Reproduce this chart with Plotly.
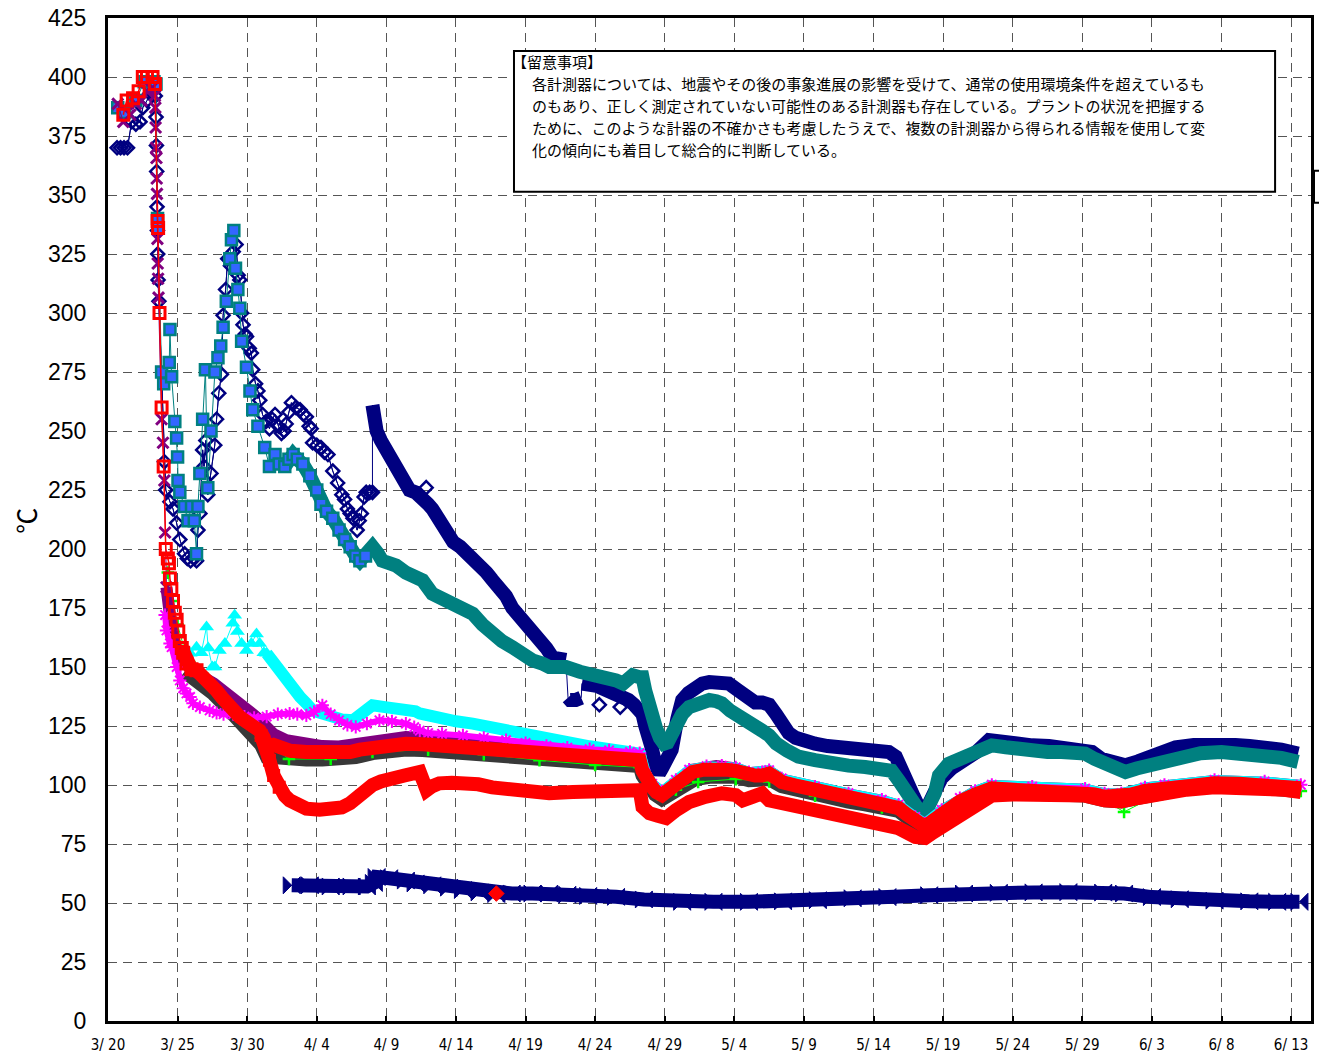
import pandas as pd
import plotly.graph_objects as go

BASE = pd.Timestamp("2011-03-20")

# ---------------- data (x = days after 3/20, y = deg C) ----------------
navy_early_days = [0.65,0.9,1.15,1.4,1.7,2.0,2.3,2.5,2.8,3.0,3.25,3.4,3.45,3.48,3.5,3.52,3.55,3.57,3.6,3.66,
                   4.05,4.15,4.45,4.67,4.93,5.16,5.5,5.7,5.93,6.2,6.36,6.46,6.6,6.8,6.9,7.03,7.17,7.4,7.67,7.8,
                   7.96,8.15,8.27,8.45,8.6,8.8,9.0,9.2,9.35,9.47,9.6,9.7,9.85,9.95,10.15,10.3,10.4,10.6,10.77,10.9,
                   11.1,11.35,11.6,11.8,12.0,12.25,12.46,12.65,12.8,13.0,13.18,13.5,13.8,14.05,14.25,14.45,14.6,14.7,15.0,15.3,
                   15.55,15.8,16.15,16.5,16.8,17.0,17.2,17.4,17.6,17.9,18.05,18.2,18.4,18.55,18.8,19.0]
navy_early_vals = [370,370,370,370,381,380,381,387,390,393,397,392,383,371,360,345,335,325,314,305,
                   237,225,220,217,211,204,198,196,195,196,195,208,215,242,235,246,223,232,244,255,
                   266,274,299,310,323,320,326,329,316,314,300,295,291,290,285,283,276,270,267,263,
                   257,254,251,255,257,252,249,250,253,258,262,260,259,257,256,252,251,245,244,243,
                   241,240,233,228,223,221,217,215,213,208,212,215,222,224,224,224]

navy_late_days = [19.0,19.1,19.3,19.6,20.0,20.4,20.7,21.2,21.66,22.1,22.6,23.0,23.3,23.8,
                  24.3,24.8,25.3,25.7,26.2,26.7,27.2,27.6,28.1,28.6,29.05,29.5,30.0,30.5,31.0,
                  31.5,31.95,32.4,32.9,33.05,33.2,33.6,34.0,34.05,34.6,35.1,35.5,36.0,36.5,37.0,
                  37.4,37.8,38.2,38.4,38.6,38.9,39.1,39.35,39.6,39.8,40.1,40.5,40.9,41.25,41.7,
                  42.2,42.7,43.2,43.9,44.6,45.3,45.9,46.5,47.0,47.5,48.0,48.4,48.9,49.4,50.1,
                  50.8,51.7,52.7,53.4,54.2,55.0,55.6,56.1,56.6,57.0,57.5,57.9,58.25,58.7,59.3,
                  59.9,60.6,61.6,62.4,63.3,64.2,65.2,66.4,67.6,68.7,69.6,70.7,71.4,72.1,73.1,
                  74.0,75.0,75.9,76.7,78.0,79.5,81.0,82.0,83.1,84.3,85.5]
navy_late_vals = [261,254,250,246,242,237,233,229,225,224,222,219,217,212,
                  206,203,201,199,196,193,190,187,184,180,175,172,170,166,163,
                  158,154,153,153,137,136,136,137,143,143,142,141,140,139,137,
                  136,134,131,130,125,120,115,108,105,107,110,115,128,136,139,
                  141.5,143,143.6,143.6,143,140,137,135,135,134,130,126,122,120,118,
                  117.5,116.5,116,115.5,115.5,115,115,114,112,107.6,100.7,95,90.7,88.6,96,
                  103,107,110,114,119,118,117,116.8,116.5,116,115,114,111,109.5,108.4,
                  110,112.6,114.5,116,117,117.5,117,116.5,116,115,113.3]

navy_spike_days = [22.86, 35.3, 36.8]
navy_spike_vals = [226, 134, 133]

teal_days = [0.7,1.2,2.0,2.6,3.3,3.45,3.56,3.6,3.85,4.0,4.4,4.45,4.57,4.8,4.93,5.0,5.03,5.16,5.5,5.75,
             6.0,6.2,6.36,6.46,6.6,6.8,7.0,7.17,7.4,7.68,7.9,8.1,8.27,8.5,8.75,8.87,9.04,9.16,9.33,9.47,
             9.6,9.95,10.2,10.4,10.77,11.26,11.6,12.0,12.3,12.7,13.0,13.3,13.6,14.0,14.5,15.0,15.3,15.7,16.15,16.6,
             17.0,17.4,17.8,18.1,18.5,19.0,19.4,19.7,20.2,20.7,21.4,22.1,22.6,23.3,23.8,24.3,25.2,26.2,26.9,27.6,
             28.3,29.05,29.8,30.5,31.2,31.7,32.4,32.9,33.9,34.8,35.5,36.5,37.0,37.7,38.2,38.4,38.6,38.9,39.1,39.35,
             39.65,39.95,40.2,40.5,40.8,41.25,41.75,42.5,43.2,43.7,44.1,44.7,45.3,46.1,47.0,47.5,48.0,48.8,49.6,50.8,
             52.0,53.2,54.4,55.4,56.3,56.8,57.2,57.5,57.9,58.25,58.7,59.1,59.4,59.7,60.4,61.0,61.6,62.5,63.5,64.5,
             65.5,66.4,67.5,68.5,69.3,70.2,70.9,71.6,72.3,73.1,73.9,74.75,75.9,77.1,78.5,80.0,81.5,83.1,84.3,85.5]
teal_vals = [387,385,390,398,398,397,340,336,275,270,279,293,273,254,247,239,229,224,218,212,
             218,212,198,218,232,255,276,226,250,275,281,286,294,305,323,331,335,319,310,302,
             288,277,267,259,252,243,235,240,236,235,238,240,238,236,231,225,219,216,213,208,
             204,201,197,195,197,201,198,195,194,193,190,188,186.7,181,179.5,178,175,172.6,168,164,
             161,158.4,155,152.8,151.5,150,150,150,148,147,146,144.3,143,146.5,145.7,145.7,140,131.6,128,124.6,
             120,117.5,118,122,126,130,133,135,136,135.5,134.6,131.5,128.8,126,123,121,117.6,114.5,112,110.5,
             109,108.2,107.6,107,106,102,98,95,92,89.3,88,92,96.5,104,109,110.5,112,114.5,116.8,116,
             115,114,114,114,113.5,113.3,111,109,107,105.5,107,108.4,110.5,112.6,113.5,114,113.5,112.6,111.5,109.8]

red_days = [1.1,1.34,1.8,2.2,2.5,2.8,3.2,3.37,3.56,3.6,3.7,3.85,4.0,4.15,4.3,4.38,4.45,4.55,4.67,4.8,
            4.93,5.05,5.16,5.3,5.4,5.64,6.0,6.36,6.7,7.08,7.4,7.8,8.2,8.6,9.0,9.47,9.9,10.4,10.9,11.2,
            11.4,11.9,12.5,13.1,14.25,15.4,16.6,17.4,18.1,19.0,20.2,21.4,22.6,23.8,25.0,26.2,27.4,28.6,29.8,31.0,
            32.2,33.4,34.6,35.8,37.0,38.2,38.4,38.6,39.1,39.4,39.8,40.3,40.8,41.4,42.0,42.8,43.7,44.4,45.1,45.6,
            46.05,46.5,47.0,47.5,48.0,48.4,49.6,50.8,52.0,53.2,54.4,55.6,56.3,56.8,57.4,58.0,58.7,59.3,59.9,60.4,
            61.2,62.3,63.5,65.0,66.4,68.3,70.2,70.9,71.6,72.8,73.5,74.5,75.9,77.5,79.5,81.3,83.1,84.5,85.7]
red_vals = [384,390,391,394,400,400,400,397,339,336,300,260,235,200,196,194,187.5,183,178,173,
            170,165,161,158,156,151.5,149,148.6,146,144.3,142,140,137,134,131,128.8,127,125,123,120,
            116,117,115.5,114.5,114,113.6,113.4,114,115,116,117,117.5,117.3,116.8,116.3,115.8,115.1,114.4,113.7,113,
            112.3,111.6,111.4,111.2,110.8,110.5,106,103.4,99,97,95.7,98,100.7,103.5,105.5,106.5,107,106.5,106,105,
            104,104,104,104.8,103,101.3,99.5,97.8,96.5,95,93.7,92.3,91,90.2,87.5,85,82.3,85,88,90.7,
            93,96,98.6,98,97.8,97.5,97,96,95,95,96,97.5,98.6,99.7,100.7,100.5,100,99.3,98.6]

red2_days = [11.0,11.4,11.6,11.9,12.3,12.7,13.05,13.6,14.25,15.2,16.15,16.8,17.4,18.1,18.6,19.0,19.6,20.2,21.3,22.4,
             22.7,22.9,23.3,23.8,24.7,25.7,26.6,27.6,28.8,30.0,31.7,33.4,35.0,36.6,38.2,38.4,38.9,39.5,40.1,40.8,
             41.75,42.9,44.1,45.1,45.6,46.3,47.0,47.5,48.6,49.7,50.8,52.0,53.2,54.4,55.6,56.8,58.0,58.7,59.3,59.9,
             60.4,61.5,62.5,63.5,65.0,66.4,68.3,70.2,71.6,72.8,74.0,75.9,77.5,79.5,81.3,83.1,84.5,85.7]
red2_vals = [121,116,110.5,104,99,95.5,93.5,91.5,90,89.5,89.3,90.5,92.3,96.5,98.5,100,101.5,102.8,104,105.5,
             101.3,97.8,99.5,100.7,101,101.3,100.3,99,98,97,96.5,97,97.2,97.5,97.8,90.7,88,87,86,89.3,
             92.8,95,96.5,95.7,93.5,95,96.5,93.5,92,90.7,89.3,88,86.5,85,83.7,81.7,78,77.5,80,82.3,
             85,89,93,95.5,96,96,96,95.5,93.5,93,94.5,97,98,99,99,98.5,98,97]

gray_days = [5.5,6.5,7.5,8.5,9.5,10.5,11.0,11.4,12.0,13.0,14.25,15.4,16.6,17.8,19.0,20.2,21.4,22.6,23.8,25.0,
             26.2,27.4,28.6,29.8,31.0,32.2,33.4,34.6,35.8,37.0,38.2,38.4,38.8,39.3,39.8,40.3,40.8,41.5,42.2,43.2,
             44.1,45.1,46.05,47.0,47.5,48.4,49.6,50.8,52.0,53.2,54.4,55.6,56.8,58.0,58.7,59.9,60.4,61.5,62.5,63.5,
             65.0,66.4,68.3,70.2,71.6,72.8,74.0,75.9,77.5,79.5,81.3,83.1,85.7]
gray_vals = [148,144,139,133,126,121,117,112,111.5,111,110.8,110.8,111,111.8,113.5,114.5,115,114.8,114.3,113.8,
             113.3,112.6,112,111.2,110.5,109.8,109.1,108.9,108.7,108.3,108,104,100,96,94,95.5,98,100.5,102.5,103.5,
             104,103.5,102,102,102.5,99.5,97.5,96,94.5,93,91.8,90.5,89,83.5,81,86,88.5,92,94.5,96.5,
             96.5,96.3,96,95.5,93.5,93,94.5,97,98.5,99.5,99.3,98.8,97.3]

purple_early_days = [0.7,1.1,1.6,2.0,2.4,2.8,3.1,3.37,3.4,3.42,3.45,3.48,3.5,3.52,3.55,3.57,3.6,3.63,3.85,3.95,4.05,4.1,4.2]
purple_early_vals = [388.6,381,384,388.6,390,394,395,392,387,378.6,370,365.7,357,350.5,331.4,321,314.5,306.5,255,245,229,207,183.8]

purple_days = [4.2,4.4,4.6,4.9,5.3,5.8,6.4,7.0,7.6,8.2,8.8,9.47,10.4,10.9,11.4,11.9,12.8,13.5,14.25,15.4,
               16.6,17.8,19.0,20.2,21.4,22.6,23.8,25.0,26.2,27.4,28.6,29.8,31.0,32.2,33.4,34.6,35.8,37.0,38.2,38.6,
               39.1,39.8,40.8,42.0,43.7,45.1,46.05,47.0,47.5,48.4,50.8,53.2,55.6,56.8,58.0,58.7,59.9,61.2,62.3,63.5,
               66.4,70.2,71.6,72.8,74.5,75.9,79.5,83.1,85.7]
purple_vals = [183.8,172,165,158,153,150,147,145,143,140.5,138,134.5,130,127.5,124.5,121.5,119,118,117,116.5,
               116.3,117.5,119,120,120.3,120,119.5,119,118.5,117.8,117,116.2,115.5,114.8,114.2,113.8,113.4,113,112.7,104.5,
               100,96.7,101.7,106.5,108,107,105,105,105.8,102.3,98.8,96,93.3,91.2,86,83.3,89,94,97,99.6,
               98.8,98,96,96,98.5,99.6,101.7,101,99.6]

magenta_days = [4.1,4.2,4.45,4.57,4.93,5.16,5.4,5.64,5.9,6.1,6.6,7.3,7.8,8.3,9.0,9.8,10.5,11.4,12.2,13.05,
                13.6,14.25,14.8,15.4,16.0,16.6,17.2,17.8,18.6,19.5,20.4,21.4,22.0,22.4,23.0,24.0,25.5,27.0,28.6,30.0,
                31.5,33.0,34.6,36.0,37.5,38.2,38.6,39.1,39.8,40.8,41.75,43.0,44.1,45.1,46.05,47.0,47.5,48.4,50.8,53.2,
                55.6,56.8,58.0,58.7,59.9,61.2,62.3,63.5,66.4,70.2,71.6,72.8,74.5,75.9,79.5,83.1,85.7]
magenta_vals = [172,165.5,160,158.4,150,144.3,141,138.8,137.3,134.6,133,131.6,130.5,130,130,129,128.5,129,130,130.3,
                130,129.5,131,133.8,130,127.4,125.5,124.6,126,127.4,127,126,124.5,123,122,121.7,121,120,119,117.8,
                116.6,115.8,115.2,114.7,114,113.5,105,100.5,97.3,102.2,106.5,108,108.2,107.5,105.5,105.5,106.3,102.8,99.3,96.5,
                93.8,91.7,86.5,83.8,89.5,94.5,97.5,100.1,99.3,98.5,96.5,96.5,99,100.1,102.2,101.5,100.1]

cyan_days = [5.9,6.36,6.7,7.08,7.2,7.5,7.68,8.0,8.4,8.97,9.1,9.3,9.6,9.95,10.3,10.67,10.9,11.2,11.4,11.9,
             12.4,12.8,13.3,13.8,14.25,14.7,15.4,16.15,16.8,17.6,18.2,18.55,19.0,19.9,20.9,22.1,22.4,23.3,23.8,25.0,
             26.2,27.4,28.6,29.8,31.0,32.2,33.4,34.6,35.8,37.0,38.2,38.6,39.1,39.8,40.8,41.75,43.0,44.1,45.1,46.05,
             47.0,47.5,48.4,50.8,53.2,55.6,56.8,58.0,58.7,59.9,61.2,62.3,63.5,66.4,70.2,71.6,72.8,74.5,75.9,79.5,
             83.1,85.7]
cyan_vals = [155.8,158.4,156,167,158,150,150,157,160,168.5,171.9,165,160,157,160,164,160,156,155.8,152,
             147,143.5,140,137.3,134.6,131.6,130.3,128.8,127.8,127.4,130,131.6,133.8,133,132.5,131.2,130.3,128.8,128,127,
             126,124.5,123,121.6,120.3,118.8,117.5,116.4,115.4,114.3,113.3,104.5,100,96.7,101.7,106,107.5,107.7,107,105,
             105,105.8,102.3,98.8,96,93.3,91.2,86,83.3,89,94,97,99.6,98.8,98,96,96,98.5,99.6,101.7,
             101,99.6]

green_days = [4.3,4.6,5.0,5.6,6.2,6.8,7.6,8.5,9.5,11.0,13.0,16.0,19.0,23.0,27.0,31.0,35.0,38.2,39.5,40.8,
              42.4,45.1,47.5,50.8,55.6,58.7,61.2,63.5,68.3,71.6,73.0,75.9,79.5,83.1,85.7]
green_vals = [190,178,168,155,150,147,143,136,128,120,111,111,114,115,113,110.5,108.5,107.5,96,98,
              101.3,102.5,101.5,95.5,90.5,82,92,96,96,93.5,88.6,97.3,99.3,99,97.5]

bottom_days = [13.2,14.5,16.0,17.5,18.6,19.1,19.3,20.2,21.4,22.1,23.3,24.5,25.5,26.7,27.9,29.0,30.5,31.7,33.0,34.5,
               36.5,38.5,41.25,43.5,46.05,48.5,51.0,53.5,56.0,59.0,61.5,64.0,66.5,69.0,71.5,73.0,75.0,77.0,79.5,82.0,
               84.0,85.6]
bottom_vals = [57.5,57.5,57,57,57,58.5,61,60.5,59.5,58.3,57.5,56.5,55.5,54.5,53.8,54,54,54,53.5,53,
               52.6,51.5,50.5,50.5,50.5,50.7,51.2,52,52.5,53.3,54,54.3,54.5,54.6,54.4,54,52.5,51.6,51,50.7,
               50.5,50.5]

reddot_days = [27.9]
reddot_vals = [54]

note_title = "【留意事項】"
note_lines = [
    "各計測器については、地震やその後の事象進展の影響を受けて、通常の使用環境条件を超えているも",
    "のもあり、正しく測定されていない可能性のある計測器も存在している。プラントの状況を把握する",
    "ために、このような計器の不確かさも考慮したうえで、複数の計測器から得られる情報を使用して変",
    "化の傾向にも着目して総合的に判断している。",
]
y_title = "℃"

# ---------------- helpers ----------------
def dates(days):
    return [BASE + pd.Timedelta(days=d) for d in days]

def sub(days, vals, lo=-1e9, hi=1e9):
    pairs = [(d, v) for d, v in zip(days, vals) if lo <= d <= hi]
    return [p[0] for p in pairs], [p[1] for p in pairs]

for a, b in [(navy_early_days, navy_early_vals), (navy_late_days, navy_late_vals), (teal_days, teal_vals),
             (red_days, red_vals), (red2_days, red2_vals), (gray_days, gray_vals), (purple_days, purple_vals),
             (purple_early_days, purple_early_vals), (magenta_days, magenta_vals), (cyan_days, cyan_vals),
             (green_days, green_vals), (bottom_days, bottom_vals)]:
    assert len(a) == len(b), (len(a), len(b))

fig = go.Figure()

def band(days, vals, color, width):
    fig.add_trace(go.Scatter(x=dates(days), y=vals, mode="lines",
                             line=dict(color=color, width=width), hoverinfo="skip"))

def marks(days, vals, color, symbol, size, lw=1, mlw=2, fill=None, mode="lines+markers"):
    fig.add_trace(go.Scatter(
        x=dates(days), y=vals, mode=mode,
        line=dict(color=color, width=lw),
        marker=dict(symbol=symbol, size=size, color=fill if fill else color,
                    line=dict(color=color, width=mlw))))

NAVY = "#000080"; TEAL = "#008080"; BLUE = "#3366FF"; RED = "#FF0000"
PURPLE = "#800080"; MAGENTA = "#FF00FF"; CYAN = "#00FFFF"; GRAY = "#383838"; GREEN = "#00FF00"

# bottom navy series
band(bottom_days, bottom_vals, NAVY, 14)
marks(bottom_days, bottom_vals, NAVY, "bowtie", 17, lw=0, mlw=1, mode="markers")

# navy diamonds: thin connecting line through everything, thick band pieces for the dense part
band(navy_early_days + navy_late_days, navy_early_vals + navy_late_vals, NAVY, 1)
marks(navy_early_days, navy_early_vals, NAVY, "diamond-open", 10, lw=1, mlw=2.5)
for lo, hi in [(19.0, 32.95), (33.0, 34.02), (34.04, 99)]:
    d, v = sub(navy_late_days, navy_late_vals, lo=lo, hi=hi)
    band(d, v, NAVY, 14)
marks(navy_spike_days, navy_spike_vals, NAVY, "diamond-open", 10, lw=0, mlw=2.5, mode="markers")

# teal squares
d, v = sub(teal_days, teal_vals, lo=12.5)
band(d, v, TEAL, 14)
d, v = sub(teal_days, teal_vals, hi=18.5)
marks(d, v, TEAL, "square", 11, lw=1, mlw=2.5, fill=BLUE)

# gray
band(gray_days, gray_vals, GRAY, 14)

# green plus
marks(green_days, green_vals, GREEN, "cross-thin-open", 9, lw=1, mlw=2.5)

# purple
band(purple_days, purple_vals, PURPLE, 12)
marks(purple_early_days, purple_early_vals, PURPLE, "x-thin-open", 11, lw=1, mlw=3)

# cyan
d, v = sub(cyan_days, cyan_vals, hi=11.5)
marks(d, v, CYAN, "triangle-up", 13, lw=1, mlw=0)
d, v = sub(cyan_days, cyan_vals, lo=11.4)
band(d, v, CYAN, 12)

# magenta
marks(magenta_days, magenta_vals, MAGENTA, "asterisk-open", 11, lw=6, mlw=2)

# red lower
band(red2_days, red2_vals, RED, 14)
d, v = sub(red2_days, red2_vals, hi=12.4)
marks(d, v, RED, "square-open", 10, lw=0, mlw=3, mode="markers")

# red upper
d, v = sub(red_days, red_vals, lo=5.3)
band(d, v, RED, 14)
d, v = sub(red_days, red_vals, hi=6.5)
marks(d, v, RED, "square-open", 11, lw=1.5, mlw=3)

# red diamond
marks(reddot_days, reddot_vals, RED, "diamond", 12, lw=0, mlw=1, mode="markers")

# ---------------- layout ----------------
W, H = 1319, 1060
L, R, T, B = 108, 5, 17, 39
pw, ph = W - L - R, H - T - B

def px(xp):
    return (xp - L) / pw

def py(yp):
    return (H - B - yp) / ph

grid = dict(showgrid=True, gridcolor="#555555", gridwidth=1, griddash="9px,6px")

NOTE_FONT = dict(family="Noto Sans CJK JP", size=15, color="black")
annotations = [
    dict(text=y_title, xref="paper", yref="paper", x=px(25), y=py(520), textangle=-90,
         xanchor="center", yanchor="middle",
         showarrow=False, font=dict(family="Noto Sans CJK JP", size=26, color="black")),
    dict(text=note_title, xref="paper", yref="paper", x=px(511), y=py(61), xanchor="left", yanchor="middle",
         showarrow=False, align="left", font=NOTE_FONT),
]
for i, line in enumerate(note_lines):
    annotations.append(dict(text=line, xref="paper", yref="paper", x=px(531), y=py(83 + 22 * i),
                            xanchor="left", yanchor="middle", showarrow=False, align="left",
                            font=NOTE_FONT))

fig.update_layout(
    width=W, height=H, margin=dict(l=L, r=R, t=T, b=B),
    paper_bgcolor="white", plot_bgcolor="white", showlegend=False,
    xaxis=dict(type="date", range=[BASE, BASE + pd.Timedelta(days=86.43)],
               tick0="2011-03-20", dtick=5 * 86400000, tickformat="%-m/ %-d",
               ticks="inside", ticklen=5, tickwidth=1.5, tickcolor="black",
               showline=True, linecolor="black", linewidth=3, mirror=True,
               tickfont=dict(family="Liberation Sans Narrow, DejaVu Sans Condensed, Liberation Sans",
                             size=15, color="black"),
               ticklabelstandoff=8, **grid),
    yaxis=dict(range=[0, 425], dtick=25, tick0=0, ticks="",
               showline=True, linecolor="black", linewidth=3, mirror=True,
               tickfont=dict(family="Liberation Sans, Arial", size=23, color="black"),
               ticklabelstandoff=14, **grid),
    shapes=[
        dict(type="rect", xref="paper", yref="paper", x0=px(515), x1=px(1278), y0=py(191), y1=py(50),
             line=dict(color="black", width=2), fillcolor="white", layer="above"),
        dict(type="rect", xref="paper", yref="paper", x0=px(1317), x1=px(1330), y0=py(202), y1=py(170),
             line=dict(color="black", width=2), fillcolor="rgba(0,0,0,0)", layer="above"),
    ],
    annotations=annotations,
)

fig.write_html("out.html", config={"displayModeBar": False},
               post_script="document.body.style.margin='0';document.body.style.overflow='hidden';")
